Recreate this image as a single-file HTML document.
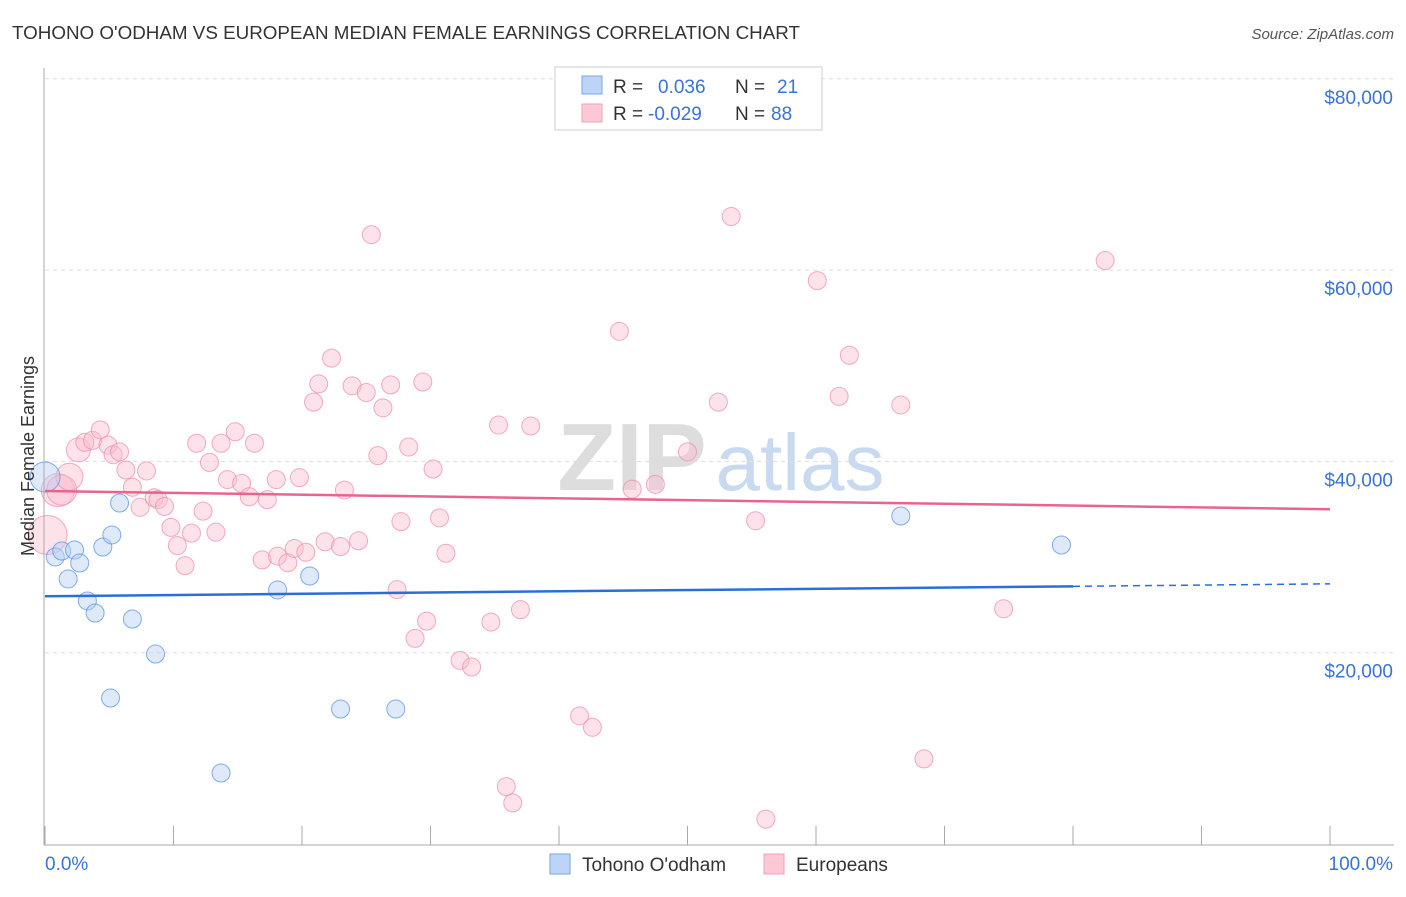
<!DOCTYPE html>
<html><head><meta charset="utf-8"><style>
body{margin:0;background:#fff;font-family:"Liberation Sans",sans-serif}
svg text{font-family:"Liberation Sans",sans-serif}
</style></head><body>
<svg id="c" width="1406" height="892">
<text x="12" y="39" font-size="18" fill="#333" textLength="788" lengthAdjust="spacingAndGlyphs">TOHONO O'ODHAM VS EUROPEAN MEDIAN FEMALE EARNINGS CORRELATION CHART</text>
<text x="1394" y="39" font-size="15" fill="#555" font-style="italic" text-anchor="end">Source: ZipAtlas.com</text>
<g><text x="632" y="490" font-size="96" fill="#ddd" font-family="Liberation Serif" text-anchor="middle" font-weight="bold">ZIP</text><text x="800" y="490" font-size="80" fill="#c9daf0" text-anchor="middle">atlas</text></g>
<g id="grid"></g><g id="marks"></g><g id="axes"></g>
<g>
<rect x="555" y="67" width="267" height="63" fill="#fff" stroke="#ccc"/>
<rect x="582" y="76" width="20" height="18" fill="#bcd4f5" stroke="#7aa7e6"/>
<rect x="582" y="104" width="20" height="18" fill="#fcc8d6" stroke="#f2a0b8"/>
<text y="93" font-size="19" fill="#333"><tspan x="613">R =</tspan><tspan x="658" fill="#3b72d6">0.036</tspan><tspan x="735">N =</tspan><tspan x="777" fill="#3b72d6">21</tspan></text>
<text y="120" font-size="19" fill="#333"><tspan x="613">R =</tspan><tspan x="648" fill="#3b72d6">-0.029</tspan><tspan x="735">N =</tspan><tspan x="771" fill="#3b72d6">88</tspan></text>
</g>
<g>
<rect x="550" y="854" width="20" height="20" fill="#bcd4f5" stroke="#7aa7e6"/>
<text x="582" y="871" font-size="19" fill="#333">Tohono O'odham</text>
<rect x="764" y="854" width="20" height="20" fill="#fcc8d6" stroke="#f2a0b8"/>
<text x="796" y="871" font-size="19" fill="#333">Europeans</text>
</g>
<text transform="translate(34,456) rotate(-90)" font-size="18" fill="#333" text-anchor="middle">Median Female Earnings</text>
</svg>
<script>
const yTicks=[20000,40000,60000,80000];
const yTickLabels=["$20,000","$40,000","$60,000","$80,000"];
const blueX=[0,0.8,1.3,2.3,2.7,1.8,3.3,3.9,4.5,5.2,5.8,6.8,8.6,5.1,13.7,18.1,20.6,23.0,27.3,66.6,79.1];
const blueY=[38370,30010,30630,30740,29380,27710,25410,24150,31050,32310,35650,23520,19860,15260,7420,26560,28020,14110,14110,34290,31260];
const blueN=[3,1,1,1,1,1,1,1,1,1,1,1,1,1,1,1,1,1,1,1,1];
const pinkX=[0.2,1.0,1.3,1.9,2.6,3.1,3.7,4.3,4.9,5.3,5.8,6.3,6.8,7.9,7.4,8.5,8.8,9.3,9.8,10.3,10.9,11.4,11.8,12.3,12.8,13.3,13.7,14.2,14.8,15.3,15.9,16.3,17.3,16.9,18.0,18.1,18.9,19.4,19.8,20.3,20.9,21.3,21.8,22.3,23.0,23.3,23.9,24.4,25.0,25.4,25.9,26.3,26.9,27.4,27.7,28.3,28.8,29.4,29.7,30.2,30.7,31.2,32.3,33.2,34.7,35.3,35.9,36.4,37.0,37.8,41.6,42.6,44.7,45.7,47.5,50.0,52.4,53.4,55.3,56.1,60.1,61.8,62.6,66.6,68.4,74.6,82.5];
const pinkY=[32.3,37.0,37.0,38.4,41.2,42.0,42.2,43.3,41.7,40.7,41.0,39.1,37.3,39.0,35.2,36.2,36.0,35.3,33.1,31.2,29.1,32.5,41.9,34.8,39.9,32.6,41.9,38.1,43.1,37.7,36.3,41.9,36.0,29.7,38.1,30.1,29.4,30.9,38.3,30.5,46.2,48.1,31.6,50.8,31.1,37.0,47.9,31.7,47.2,63.7,40.6,45.6,48.0,26.6,33.7,41.5,21.5,48.3,23.3,39.2,34.1,30.4,19.2,18.5,23.2,43.8,6.0,4.3,24.5,43.7,13.4,12.2,53.6,37.1,37.6,41.0,46.2,65.6,33.8,2.6,58.9,46.8,51.1,45.9,8.9,24.6,61.0].map(v=>v*1000);
const pinkN=[4.5,3.5,3,2.5,2,1,1,1,1,1,1,1,1,1,1,1,1,1,1,1,1,1,1,1,1,1,1,1,1,1,1,1,1,1,1,1,1,1,1,1,1,1,1,1,1,1,1,1,1,1,1,1,1,1,1,1,1,1,1,1,1,1,1,1,1,1,1,1,1,1,1,1,1,1,1,1,1,1,1,1,1,1,1,1,1,1,1];
const blueTrend=[25900,27200]; const blueSolidEnd=80;
const pinkTrend=[36900,35000];
const xS=p=>45+p*12.85, yS=v=>844-v*191.3/20000;
const NS="http://www.w3.org/2000/svg";
function mk(t,a,p){const e=document.createElementNS(NS,t);for(const k in a)e.setAttribute(k,a[k]);p.appendChild(e);return e;}
const grid=document.getElementById('grid'),marks=document.getElementById('marks'),axes=document.getElementById('axes');
yTicks.forEach((t,i)=>{
 const l=mk('line',{x1:45,x2:1394,y1:yS(t),y2:yS(t),stroke:'#ddd','stroke-dasharray':'4,4'},grid);
 
 
 const tx=mk('text',{x:1393,y:yS(t)+25,'font-size':19,fill:'#3b72d6','text-anchor':'end'},axes);
 tx.textContent=yTickLabels[i];
 
 
});
mk('line',{x1:44,x2:44,y1:68,y2:845,stroke:'#aaa'},axes);
mk('line',{x1:44,x2:1394,y1:845,y2:845,stroke:'#aaa'},axes);
for(let i=0;i<=10;i++){const t=mk('line',{x1:xS(i*10),x2:xS(i*10),y1:826,y2:845,stroke:'#aaa'},axes);}
let t0=mk('text',{x:45,y:870,'font-size':19,fill:'#3b72d6'},axes);t0.textContent='0.0%';


let t1=mk('text',{x:1393,y:870,'font-size':19,fill:'#3b72d6','text-anchor':'end'},axes);t1.textContent='100.0%';


function pts(X,Y,N,fill,stroke,name){X.forEach((x,i)=>{const c=mk('circle',{cx:xS(x),cy:yS(Y[i]),r:9+(N[i]-1)*3,fill:fill,stroke:stroke,'fill-opacity':0.45,'stroke-opacity':0.75,'stroke-width':1},marks);
 
 });}
pts(pinkX,pinkY,pinkN,'#fbbfd0','#ef8fac','europeans-point');
pts(blueX,blueY,blueN,'#b5cff3','#5b93e0','tohono-point');
const bAt=p=>blueTrend[0]+(blueTrend[1]-blueTrend[0])*p/100;
let b1=mk('line',{x1:xS(0),y1:yS(bAt(0)),x2:xS(blueSolidEnd),y2:yS(bAt(blueSolidEnd)),stroke:'#2b6fd6','stroke-width':2.5},marks);


let b2=mk('line',{x1:xS(blueSolidEnd),y1:yS(bAt(blueSolidEnd)),x2:xS(100),y2:yS(bAt(100)),stroke:'#2b6fd6','stroke-width':1.5,'stroke-dasharray':'7,5'},marks);


let p1=mk('line',{x1:xS(0),y1:yS(pinkTrend[0]),x2:xS(100),y2:yS(pinkTrend[1]),stroke:'#e8648f','stroke-width':2.5},marks);


</script>
</body></html>
